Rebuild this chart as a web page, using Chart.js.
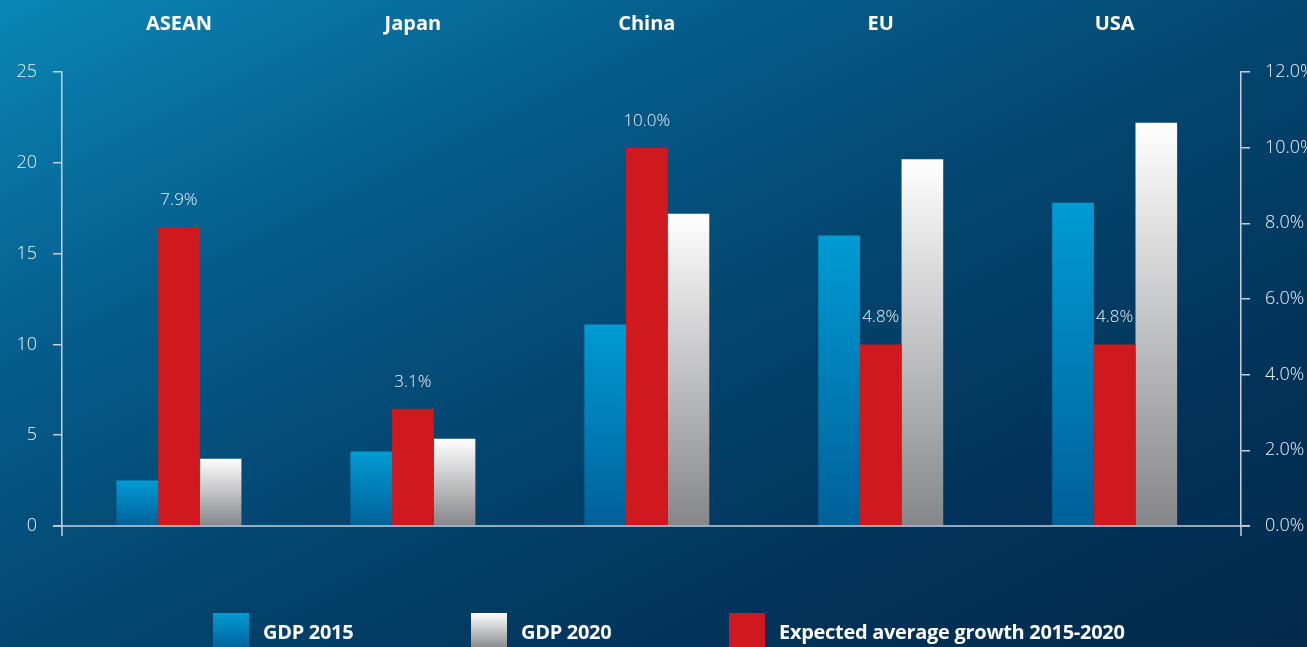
<!DOCTYPE html>
<html lang="en">
<head>
<meta charset="UTF-8">
<title>GDP 2015 / 2020</title>
<script src="https://cdn.jsdelivr.net/npm/chart.js"></script>
<style>
  html, body { margin: 0; padding: 0; }
  body {
    width: 1307px; height: 647px; overflow: hidden; position: relative;
    background: linear-gradient(to bottom right, #0a86b6 0%, #055d8c 28%, #03466f 52%, #02335a 76%, #022a4c 100%);
    font-family: "Open Sans", sans-serif;
  }
  #myChart { position: absolute; left: 0; top: 0; }
  #legend { position: absolute; left: 213px; top: 613px; display: flex; }
  .legend-item { width: 258px; height: 36px; display: flex; align-items: center; color: #fff; font-weight: 700; font-size: 20px; letter-spacing: -0.3px; white-space: nowrap; }
  .legend-item .box { width: 36px; height: 36px; margin-right: 14px; flex: none; }
</style>
</head>
<body>
<canvas id="myChart" width="1307" height="647"></canvas>
<div id="legend"></div>
<script>
  const categories = ['ASEAN', 'Japan', 'China', 'EU', 'USA'];
  const gdp2015 = [2.5, 4.1, 11.1, 16.0, 17.8];
  const gdp2020 = [3.7, 4.8, 17.2, 20.2, 22.2];
  const growth = [7.9, 3.1, 10.0, 4.8, 4.8];   // percent
  const gdpTicks = [0, 5, 10, 15, 20, 25];
  const growthTicks = [0, 2, 4, 6, 8, 10, 12];

  const FONT = '"Open Sans", sans-serif';
  const AXIS = '#c9cfd6';

  // vertical gradient per bar, from its top down to zero
  function barGradient(c, top, bottom) {
    const chart = c.chart;
    if (!chart.chartArea || c.type !== 'data') return bottom;
    const s = chart.scales.y;
    const g = chart.ctx.createLinearGradient(0, s.getPixelForValue(c.raw), 0, s.getPixelForValue(0));
    g.addColorStop(0, top);
    g.addColorStop(1, bottom);
    return g;
  }

  // baseline across both axes + the small stubs under them
  const axisExtras = {
    id: 'axisExtras',
    afterDatasetsDraw(chart) {
      const {ctx, chartArea} = chart;
      const y0 = chart.scales.y.getPixelForValue(0);
      ctx.save();
      ctx.strokeStyle = AXIS;
      ctx.lineWidth = 1.5;
      ctx.beginPath();
      ctx.moveTo(chartArea.left - 9, y0);
      ctx.lineTo(chartArea.right + 9, y0);
      ctx.moveTo(chartArea.left, y0);
      ctx.lineTo(chartArea.left, y0 + 10);
      ctx.moveTo(chartArea.right, y0);
      ctx.lineTo(chartArea.right, y0 + 10);
      ctx.stroke();
      ctx.restore();
    }
  };

  // growth values written above the red bars
  const growthLabels = {
    id: 'growthLabels',
    afterDatasetsDraw(chart) {
      const {ctx} = chart;
      const meta = chart.getDatasetMeta(1);
      ctx.save();
      ctx.font = '300 17px ' + FONT;
      ctx.fillStyle = '#eef2f5';
      ctx.textAlign = 'center';
      ctx.textBaseline = 'middle';
      meta.data.forEach((bar, i) => {
        ctx.fillText(growth[i].toFixed(1) + '%', bar.x, bar.y - 27);
      });
      ctx.restore();
    }
  };

  const tickFont = {family: FONT, size: 18, weight: 300};

  const ctx = document.getElementById('myChart');
  const myChart = new Chart(ctx, {
    type: 'bar',
    data: {
      labels: categories,
      datasets: [
        {
          label: 'GDP 2015',
          data: gdp2015,
          yAxisID: 'y',
          backgroundColor: c => barGradient(c, '#009bd3', '#00609a'),
          legendFill: 'linear-gradient(#009bd3, #00609a)'
        },
        {
          label: 'Expected average growth 2015-2020',
          data: growth,
          yAxisID: 'y1',
          backgroundColor: '#d0191f',
          legendFill: '#d0191f'
        },
        {
          label: 'GDP 2020',
          data: gdp2020,
          yAxisID: 'y',
          backgroundColor: c => barGradient(c, '#ffffff', '#858689'),
          legendFill: 'linear-gradient(#ffffff, #858689)'
        }
      ]
    },
    options: {
      responsive: false,
      animation: false,
      layout: { padding: { top: 0, left: 0, right: 0, bottom: 121 } },
      datasets: { bar: { barPercentage: 1, categoryPercentage: 0.534, borderWidth: 0 } },
      plugins: { legend: { display: false }, tooltip: { enabled: false } },
      scales: {
        x: {
          position: 'top',
          grid: { display: false, drawTicks: false },
          border: { display: false },
          ticks: { color: '#ffffff', font: {family: FONT, size: 20, weight: 'bold'}, padding: 36 },
          // leave a little extra room after the last group, before the right axis
          afterBuildTicks(s) { s._valueRange = categories.length + 0.04; },
          afterFit(s) { s.height = 72; }
        },
        y: {
          position: 'left',
          min: 0, max: 25,
          afterBuildTicks(s) { s.ticks = gdpTicks.map(v => ({value: v})); },
          ticks: { color: '#eef2f5', font: tickFont, padding: 16 },
          grid: { drawOnChartArea: false, color: AXIS, lineWidth: 1.5, tickLength: 9 },
          border: { color: AXIS, width: 1.5 },
          afterFit(s) { s.width = 62; }
        },
        y1: {
          position: 'right',
          min: 0, max: 12,
          afterBuildTicks(s) { s.ticks = growthTicks.map(v => ({value: v})); },
          ticks: { color: '#eef2f5', font: tickFont, padding: 15, callback: v => v.toFixed(1) + '%' },
          grid: { drawOnChartArea: false, color: AXIS, lineWidth: 1.5, tickLength: 9 },
          border: { color: AXIS, width: 1.5 },
          afterFit(s) { s.width = 66; }
        }
      }
    },
    plugins: [axisExtras, growthLabels]
  });

  // legend underneath, in 2015 / 2020 / growth order
  const legend = document.getElementById('legend');
  [0, 2, 1].forEach(i => {
    const ds = myChart.data.datasets[i];
    const item = document.createElement('div');
    item.className = 'legend-item';
    item.innerHTML = '<span class="box" style="background:' + ds.legendFill + '"></span><span>' + ds.label + '</span>';
    legend.appendChild(item);
  });
</script>
</body>
</html>
